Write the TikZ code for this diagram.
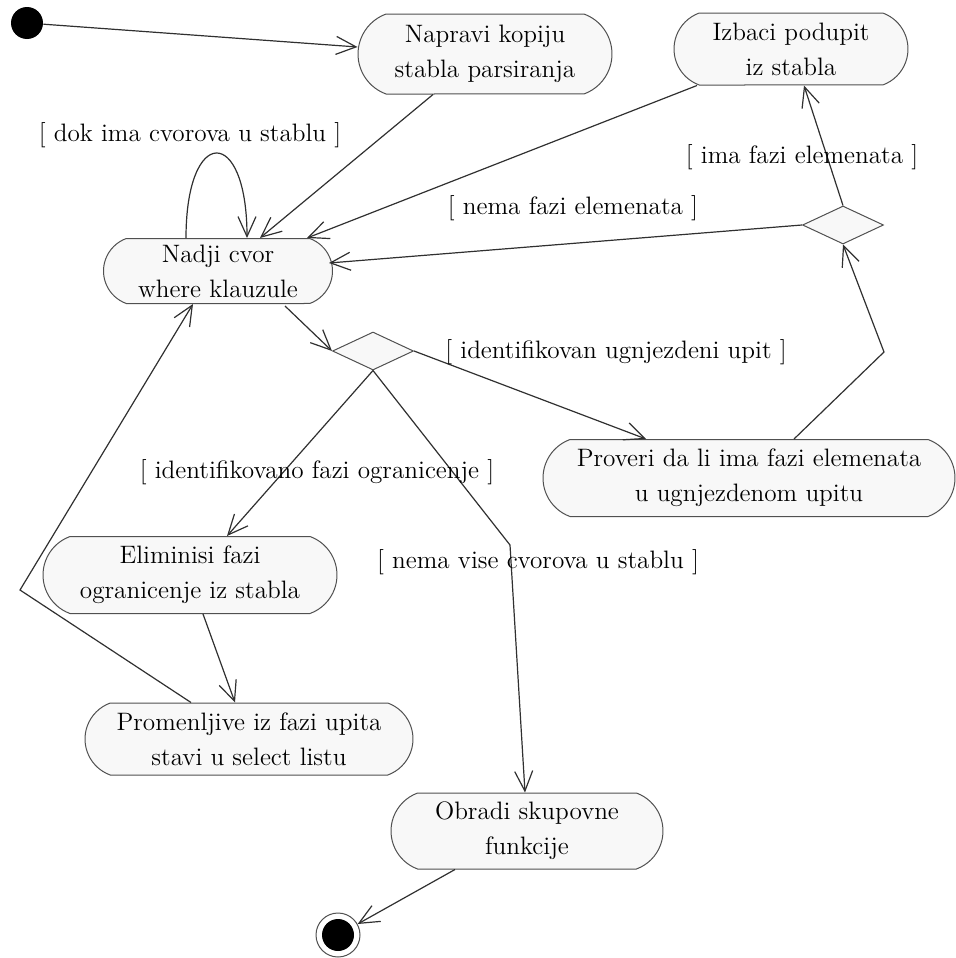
\documentclass[tikz,border=0pt]{standalone}
\usetikzlibrary{shapes.misc,shapes.geometric,arrows.meta,calc}
\definecolor{boxfill}{HTML}{F8F8F8}
\definecolor{boxline}{HTML}{505050}
\definecolor{wire}{HTML}{303030}
\begin{document}
\begin{tikzpicture}[x=0.5pt,y=-0.5pt,
  every node/.style={font=\fontsize{12.6}{17.5}\selectfont},
  activity/.style={rounded rectangle, rounded rectangle arc length=140,
    draw=boxline, fill=boxfill, line width=0.5pt, align=center, inner sep=0pt},
  decision/.style={diamond, draw=boxline, fill=boxfill, line width=0.5pt,
    inner sep=0pt, minimum width=40.5pt, minimum height=19pt},
  flow/.style={draw=wire, line width=0.6pt,
    -{Straight Barb[length=10pt,width=9pt,line width=0.6pt]}},
  guard/.style={inner sep=0pt}]
\useasboundingbox (0,0) rectangle (956,958);

% start and end markers
\node[circle, fill=black, minimum size=16pt, inner sep=0pt] (start) at (27,23) {};
\node[circle, draw=boxline, fill=white, line width=0.5pt, minimum size=22pt, inner sep=0pt,
  path picture={\fill[black] (path picture bounding box.center) circle (8pt);}] (stop) at (338,935) {};

% activities
\node[activity, minimum width=127pt, minimum height=40pt] (napravi) at (485,54) {Napravi kopiju\\stabla parsiranja};
\node[activity, minimum width=117pt, minimum height=36pt] (izbaci) at (791,49) {Izbaci podupit\\iz stabla};
\node[activity, minimum width=114.5pt, minimum height=32.5pt] (nadji) at (218,271) {Nadji cvor\\where klauzule};
\node[activity, minimum width=206pt, minimum height=38.5pt] (proveri) at (749,478) {Proveri da li ima fazi elemenata\\u ugnjezdenom upitu};
\node[activity, minimum width=147pt, minimum height=38.5pt] (elim) at (190,575) {Eliminisi fazi\\ogranicenje iz stabla};
\node[activity, minimum width=164pt, minimum height=36pt] (promen) at (249,739) {Promenljive iz fazi upita\\stavi u select listu};
\node[activity, minimum width=136pt, minimum height=38pt] (obradi) at (527,831) {Obradi skupovne\\funkcije};

% decisions
\node[decision] (dtop) at (843,225) {};
\node[decision] (dmid) at (373,351) {};

% bend points
\coordinate (bendR) at (884,352);
\coordinate (bendM) at (510,545);
\coordinate (bendL) at (20,590);

% transitions
\draw[flow] (start) -- ($(napravi.west)+(0,-7)$);
\draw[flow] ($(napravi.south)+(-52,0)$) -- ($(nadji.north)+(42,0)$);
\draw[flow] ($(izbaci.south)+(-94,0)$) -- ($(nadji.north)+(89,0)$);
\draw[flow] ($(nadji.north)+(-32,0)$) .. controls ($(nadji.north)+(-32,-113)$) and ($(nadji.north)+(29,-113)$) .. ($(nadji.north)+(29,0)$);
\draw[flow] (dtop.west) -- ($(nadji.east)+(-4,-8)$);
\draw[flow] (dtop.north) -- ($(izbaci.south)+(13,0)$);
\draw[flow] ($(proveri.north)+(45,0)$) -- (bendR) -- (dtop.south);
\draw[flow] ($(nadji.south)+(67,2)$) -- (dmid.west);
\draw[flow] (dmid.east) -- ($(proveri.north)+(-103,0)$);
\draw[flow] (dmid.south) -- ($(elim.north)+(37,0)$);
\draw[flow] (dmid.south) -- (bendM) -- ($(obradi.north)+(-2,0)$);
\draw[flow] ($(elim.south)+(13,0)$) -- ($(promen.north)+(-14,0)$);
\draw[flow] ($(promen.north)+(-58,0)$) -- (bendL) -- ($(nadji.south)+(-25,0)$);
\draw[flow] ($(obradi.south)+(-72,0)$) -- (stop);

% guards
\node[guard] (gdok) at (190,135) {[ dok ima cvorova u stablu ]};
\node[guard] (gnema) at (573,208) {[ nema fazi elemenata ]};
\node[guard] (gima) at (802,157) {[ ima fazi elemenata ]};
\node[guard] (gident) at (616,352) {[ identifikovan ugnjezdeni upit ]};
\node[guard] (gfazi) at (317,472) {[ identifikovano fazi ogranicenje ]};
\node[guard] (gvise) at (538,562) {[ nema vise cvorova u stablu ]};
\end{tikzpicture}
\end{document}
